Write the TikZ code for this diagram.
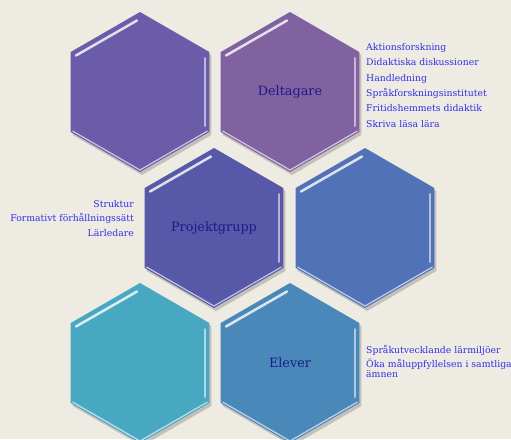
\documentclass[tikz,border=0pt]{standalone}
\usepackage{fontspec}
\setmainfont{DejaVu Serif}
\usepackage{tikz}
\usetikzlibrary{calc}
\tikzset{>=latex}
\definecolor{mybg}{RGB}{238, 235, 226}
\definecolor{hexA}{RGB}{106, 92, 168}
\definecolor{hexB}{RGB}{128, 98, 160}
\definecolor{hexC}{RGB}{88, 88, 168}
\definecolor{hexD}{RGB}{82, 114, 184}
\definecolor{hexE}{RGB}{72, 168, 194}
\definecolor{hexF}{RGB}{74, 136, 186}
\definecolor{mynavy}{RGB}{26, 26, 140}
\definecolor{myblue}{RGB}{48, 48, 232}
\tikzset{
  hexpath/.style={insert path={(0,-#1) -- (0.866*#1,-0.5*#1) -- (0.866*#1,0.5*#1) -- (0,#1) -- (-0.866*#1,0.5*#1) -- (-0.866*#1,-0.5*#1) -- cycle}},
  hexlabel/.style={text = mynavy, font = \fontsize{12.8}{14}\selectfont},
  sidelist/.style={text = myblue, inner sep = 0pt, font = \fontsize{9.3}{15.3}\selectfont},
}

\begin{document}
\begin{tikzpicture}[x = 1pt, y = -1pt]

\fill[mybg] (0,0) rectangle (511,439);
\useasboundingbox (0,0) rectangle (511,439); % keep the page size

\foreach \cx/\cy/\col in {140/92/hexA, 290/92/hexB, 214/228/hexC, 365/228/hexD, 140/363/hexE, 290/363/hexF}{
\begin{scope}[shift = {(\cx,\cy)}]
\fill[black, opacity = 0.18, shift = {(2,3)}, hexpath = 80];
\fill[\col, hexpath = 80];
\draw[\col!35!white, line width = 1.2pt] (-67.5,39) -- (0,78) -- (67.5,39);
\draw[\col!45!white, line width = 2pt, line cap = round] (65,-34) -- (65,34);
\draw[white, opacity = 0.8, line width = 2.5pt, line cap = round] (-64,-36.5) -- (-3,-71.5);
\end{scope}
}

\node[hexlabel] (deltagare) at (290,92) {Deltagare};
\node[hexlabel] (projektgrupp) at (214,228) {Projektgrupp};
\node[hexlabel] (elever) at (290,363) {Elever};

% base = last line
\node[sidelist, anchor = base west, align = left] (deltlist) at (366,127)
  {Aktionsforskning\\Didaktiska diskussioner\\Handledning\\Spr\aa kforskningsinstitutet\\Fritidshemmets didaktik\\Skriva l\"asa l\"ara};
\node[sidelist, anchor = base east, align = right, font = \fontsize{9.3}{14.5}\selectfont] (projlist) at (134,236)
  {Struktur\\Formativt f\"orh\aa llningss\"att\\L\"arledare};
\node[sidelist, anchor = base west, align = left, font = \fontsize{9.3}{14}\selectfont] (elevlist) at (366,377)
  {Spr\aa kutvecklande l\"armilj\"oer\\\"Oka m\aa luppfyllelsen i samtliga\\[-4pt]\"amnen};

\end{tikzpicture}
\end{document}
